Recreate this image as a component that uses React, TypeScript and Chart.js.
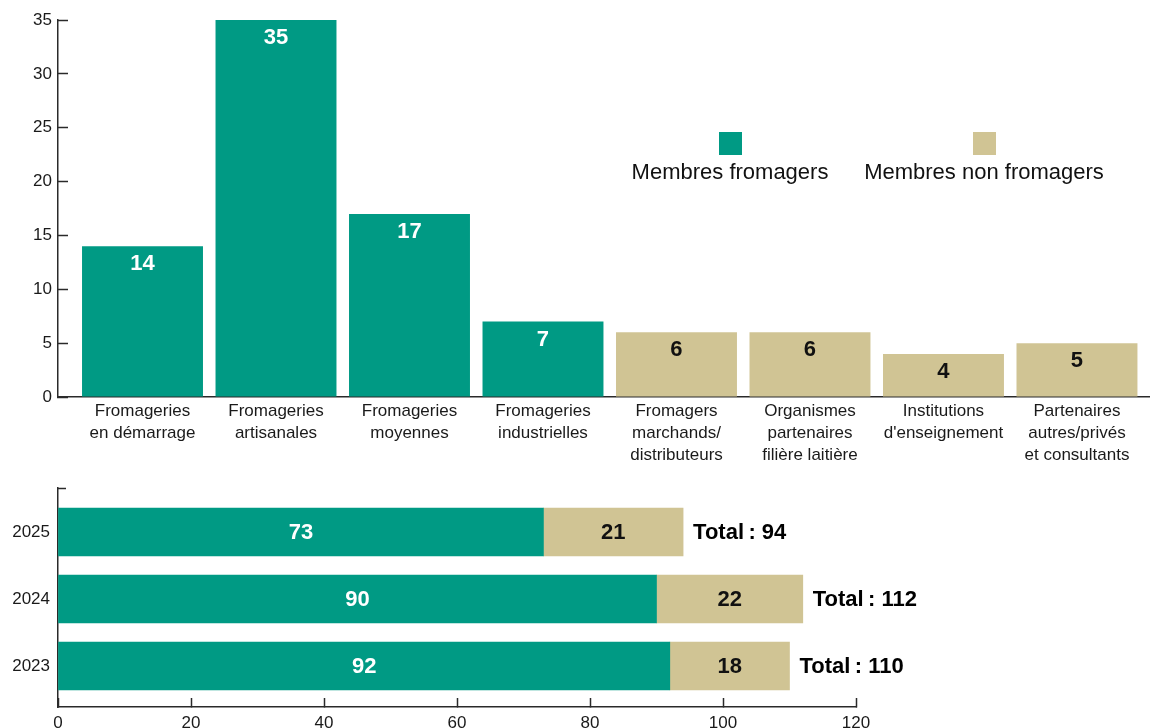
import React, { useEffect, useRef } from 'react';
import { Chart, registerables } from 'chart.js';

Chart.register(...registerables);

// ---------- Data ----------
const categoryLabels: string[][] = [
  ['Fromageries', 'en démarrage'],
  ['Fromageries', 'artisanales'],
  ['Fromageries', 'moyennes'],
  ['Fromageries', 'industrielles'],
  ['Fromagers', 'marchands/', 'distributeurs'],
  ['Organismes', 'partenaires', 'filière laitière'],
  ['Institutions', "d'enseignement"],
  ['Partenaires', 'autres/privés', 'et consultants'],
];
const categoryValues = [14, 35, 17, 7, 6, 6, 4, 5];
const categoryGroup = [0, 0, 0, 0, 1, 1, 1, 1];

const seriesLabels = ['Membres fromagers', 'Membres non fromagers'];
const seriesColors = ['#009A84', '#D0C494'];
const valueLabelColors = ['#FFFFFF', '#111111'];

const years = ['2023', '2024', '2025'];
const fromagersByYear = [92, 90, 73];
const nonFromagersByYear = [18, 22, 21];

// ---------- Styling ----------
const FONT = '"Liberation Sans", Arial, Helvetica, sans-serif';
const AXIS = '#2a2a2a';
const TEXT = '#1a1a1a';
const TOP_X_MIN = -0.633;
const TOP_X_MAX = 7.547;
const BOT_Y_MIN = -0.612;
const BOT_Y_MAX = 2.657;
const legendCenters = [730, 984];

Chart.defaults.font.family = FONT;

const topValueLabels = {
  id: 'topValueLabels',
  afterDatasetsDraw(chart: any) {
    const ctx = chart.ctx;
    chart.data.datasets.forEach((ds: any, di: number) => {
      const meta = chart.getDatasetMeta(di);
      meta.data.forEach((el: any, i: number) => {
        const v = ds.data[i].y;
        if (v == null) return;
        const { x, y } = el.getProps(['x', 'y'], true);
        ctx.save();
        ctx.font = `bold 22px ${FONT}`;
        ctx.fillStyle = valueLabelColors[di];
        ctx.textAlign = 'center';
        ctx.textBaseline = 'middle';
        ctx.fillText(String(v), x, y + 18);
        ctx.restore();
      });
    });
  },
};

const bottomValueLabels = {
  id: 'bottomValueLabels',
  afterDatasetsDraw(chart: any) {
    const ctx = chart.ctx;
    const n = chart.data.datasets.length;
    chart.data.datasets.forEach((ds: any, di: number) => {
      const meta = chart.getDatasetMeta(di);
      meta.data.forEach((el: any, i: number) => {
        const v = ds.data[i].x;
        const { x, y, base } = el.getProps(['x', 'y', 'base'], true);
        ctx.save();
        ctx.font = `bold 22px ${FONT}`;
        ctx.fillStyle = valueLabelColors[di];
        ctx.textAlign = 'center';
        ctx.textBaseline = 'middle';
        ctx.fillText(String(v), (x + base) / 2, y + 1);
        if (di === n - 1) {
          const total = fromagersByYear[i] + nonFromagersByYear[i];
          ctx.fillStyle = '#000';
          ctx.textAlign = 'left';
          ctx.fillText(`Total\u2009: ${total}`, x + 10, y + 1);
        }
        ctx.restore();
      });
    });
  },
};

export default function App() {
  const topRef = useRef<HTMLCanvasElement>(null);
  const botRef = useRef<HTMLCanvasElement>(null);

  useEffect(() => {
    const datasets = seriesLabels.map((label, g) => ({
      label,
      data: categoryValues
        .map((v, i) => ({ x: i, y: v }))
        .filter((_, i) => categoryGroup[i] === g),
      backgroundColor: seriesColors[g],
      borderWidth: 0,
      barPercentage: 0.906,
      categoryPercentage: 1,
    }));
    const top = new Chart(topRef.current as HTMLCanvasElement, {
      type: 'bar',
      data: { datasets } as any,
      options: {
        responsive: false,
        animation: false,
        layout: { padding: { top: 20, right: 0, left: 0, bottom: 0 } },
        plugins: { legend: { display: false }, tooltip: { enabled: false } },
        scales: {
          x: {
            type: 'linear',
            offset: false,
            min: TOP_X_MIN,
            max: TOP_X_MAX,
            stacked: true,
            afterBuildTicks: (s: any) => {
              s.ticks = categoryLabels.map((_, i) => ({ value: i }));
            },
            afterFit: (s: any) => {
              s.height = 73;
              s.paddingLeft = 0;
              s.paddingRight = 0;
            },
            grid: { display: false, drawTicks: false, offset: false },
            border: { display: true, color: AXIS, width: 1.5 },
            ticks: {
              callback: (_v: any, i: number) => categoryLabels[i],
              padding: 3,
              color: TEXT,
              font: { size: 17, lineHeight: 1.3 },
              maxRotation: 0,
              autoSkip: false,
            },
          },
          y: {
            min: 0,
            max: 35,
            stacked: true,
            afterFit: (s: any) => {
              s.width = 58;
              s.paddingTop = 0;
              s.paddingBottom = 0;
            },
            grid: { drawOnChartArea: false, tickLength: -10, tickWidth: 1.5, tickColor: AXIS },
            border: { display: true, color: AXIS, width: 1.5 },
            ticks: { stepSize: 5, padding: 16, color: TEXT, font: { size: 17 } },
          },
        },
      } as any,
      plugins: [topValueLabels],
    });

    const series = [fromagersByYear, nonFromagersByYear];
    const botDatasets = seriesLabels.map((label, g) => ({
      label,
      data: series[g].map((v, i) => ({ x: v, y: i })),
      backgroundColor: seriesColors[g],
      borderWidth: 0,
      barThickness: 48,
    }));
    const bot = new Chart(botRef.current as HTMLCanvasElement, {
      type: 'bar',
      data: { datasets: botDatasets } as any,
      options: {
        indexAxis: 'y',
        responsive: false,
        animation: false,
        layout: { padding: { top: 18, right: 294, left: 0, bottom: 0 } },
        plugins: { legend: { display: false }, tooltip: { enabled: false } },
        scales: {
          x: {
            type: 'linear',
            min: 0,
            max: 120,
            stacked: true,
            afterFit: (s: any) => {
              s.height = 21;
            },
            grid: { drawOnChartArea: false, tickLength: -9, tickWidth: 1.5, tickColor: AXIS },
            border: { display: true, color: AXIS, width: 1.5 },
            ticks: { stepSize: 20, padding: 15, color: TEXT, font: { size: 17 } },
          },
          y: {
            type: 'linear',
            offset: false,
            min: BOT_Y_MIN,
            max: BOT_Y_MAX,
            stacked: true,
            afterBuildTicks: (s: any) => {
              s.ticks = [...years.map((_, i) => ({ value: i })), { value: BOT_Y_MAX }];
            },
            afterFit: (s: any) => {
              s.width = 58;
              s.paddingTop = 0;
              s.paddingBottom = 0;
            },
            grid: {
              drawOnChartArea: false,
              offset: false,
              tickLength: -8,
              tickWidth: 1.5,
              tickColor: (c: any) => (c.index === years.length ? AXIS : 'rgba(0,0,0,0)'),
            },
            border: { display: true, color: AXIS, width: 1.5 },
            ticks: {
              callback: (_v: any, i: number) => (i < years.length ? years[i] : ''),
              padding: 16,
              color: TEXT,
              font: { size: 17 },
              autoSkip: false,
            },
          },
        },
      } as any,
      plugins: [bottomValueLabels],
    });

    return () => {
      top.destroy();
      bot.destroy();
    };
  }, []);

  return (
    <div
      style={{
        position: 'absolute',
        left: 0,
        top: 0,
        width: 1150,
        height: 728,
        background: '#fff',
        overflow: 'hidden',
      }}
    >
      <canvas ref={topRef} width={1150} height={470} style={{ position: 'absolute', left: 0, top: 0 }} />
      <canvas ref={botRef} width={1150} height={258} style={{ position: 'absolute', left: 0, top: 470 }} />
      {seriesLabels.map((lab, i) => (
        <div
          key={lab}
          style={{
            position: 'absolute',
            left: legendCenters[i] - 150,
            width: 300,
            top: 132,
            textAlign: 'center',
          }}
        >
          <div style={{ width: 23, height: 23, background: seriesColors[i], margin: '0 auto' }} />
          <div
            style={{
              fontFamily: FONT,
              fontSize: 22,
              lineHeight: '26px',
              marginTop: 4,
              color: '#111',
              whiteSpace: 'nowrap',
            }}
          >
            {lab}
          </div>
        </div>
      ))}
    </div>
  );
}
